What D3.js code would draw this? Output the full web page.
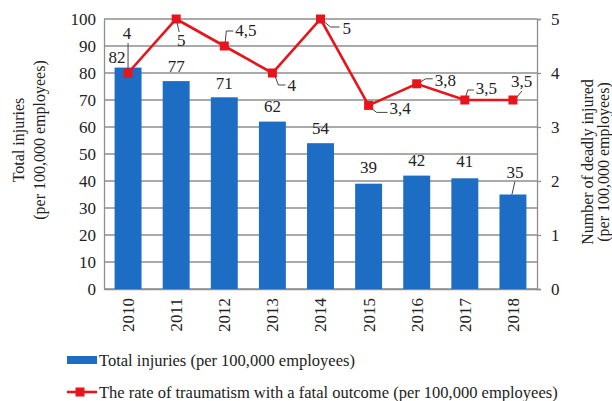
<!DOCTYPE html>
<html>
<head>
<meta charset="utf-8">
<script src="https://cdn.jsdelivr.net/npm/d3@7"></script>
<style>
  html, body { margin: 0; padding: 0; background: #fff; }
  svg text { font-family: "Liberation Serif", "Times New Roman", serif; fill: #222; }
</style>
</head>
<body>
<svg id="chart" width="612" height="401"></svg>
<script>
// ---- data ----
const years = ["2010","2011","2012","2013","2014","2015","2016","2017","2018"];
const totalInjuries = [82, 77, 71, 62, 54, 39, 42, 41, 35];
const fatalRate = [4, 5, 4.5, 4, 5, 3.4, 3.8, 3.5, 3.5];
const fatalLabels = ["4", "5", "4,5", "4", "5", "3,4", "3,8", "3,5", "3,5"];
const leftTicks = [0, 10, 20, 30, 40, 50, 60, 70, 80, 90, 100];
const rightTicks = [0, 1, 2, 3, 4, 5];
const barLegend = "Total injuries (per 100,000 employees)";
const lineLegend = "The rate of traumatism with a fatal outcome (per 100,000 employees)";
const leftTitle = ["Total injuries", "(per 100,000 employees)"];
const rightTitle = ["Number of deadly injured", "(per 100,000 employees)"];

// ---- layout (label offsets relative to marks, pixels) ----
const barLabelOffsets = [[-11,-5],[0,-9],[0,-8],[0,-10],[0,-9],[0,-11],[0,-10],[0,-11],[2,-17]];
const lineLabelOffsets = [
  {dx:-1, dy:-34, anchor:"middle", leader:[[0,-30],[0,-4]]},
  {dx:5, dy:27, anchor:"middle", leader:[[1,4],[3,13]]},
  {dx:11, dy:-10, anchor:"start", leader:[[1,-4],[2,-15],[9,-15]]},
  {dx:15, dy:18, anchor:"start", leader:[[3,4],[6,12],[13,12]]},
  {dx:22, dy:15, anchor:"start", leader:[[4,3],[10,8],[19,8]]},
  {dx:21, dy:9, anchor:"start", leader:[[3,3],[8,7],[19,7]]},
  {dx:18, dy:2, anchor:"start", leader:[[4,-2],[9,-5],[16,-5]]},
  {dx:11, dy:-6, anchor:"start", leader:[[1,-4],[3,-10],[9,-10]]},
  {dx:-2, dy:-13, anchor:"start", leader:[[4,-3],[9,-9]]}
];

const margin = {left: 104, right: 537, top: 19, bottom: 289};
const barColor = "#1c6dc3";
const lineColor = "#e8131b";
const gridColor = "#8e8e8e";

const svg = d3.select("#chart");

const x = d3.scaleBand().domain(years).range([margin.left, margin.right])
  .paddingInner(0.44).paddingOuter(0.22);
const yL = d3.scaleLinear().domain([0, 100]).range([margin.bottom, margin.top]);
const yR = d3.scaleLinear().domain([0, 5]).range([margin.bottom, margin.top]);

// gridlines
svg.append("g").selectAll("line").data(leftTicks).join("line")
  .attr("x1", margin.left).attr("x2", margin.right)
  .attr("y1", d => yL(d)).attr("y2", d => yL(d))
  .attr("stroke", gridColor).attr("stroke-width", 1.3);

// left axis
const gL = svg.append("g").attr("transform", `translate(${margin.left},0)`)
  .call(d3.axisLeft(yL).tickValues(leftTicks).tickSize(0).tickPadding(8));
gL.select(".domain").attr("stroke", gridColor).attr("stroke-width", 1.3);
gL.selectAll("text").style("font-size", "17px").style("font-family", "Liberation Serif");

// right axis
const gR = svg.append("g").attr("transform", `translate(${margin.right},0)`)
  .call(d3.axisRight(yR).tickValues(rightTicks).tickSize(4).tickPadding(10).tickFormat(d3.format("d")));
gR.select(".domain").attr("stroke", gridColor).attr("stroke-width", 1.3);
gR.selectAll("line").attr("stroke", gridColor).attr("stroke-width", 1.3);
gR.selectAll("text").style("font-size", "17px").style("font-family", "Liberation Serif");

// bottom axis
const gB = svg.append("g").attr("transform", `translate(0,${margin.bottom})`)
  .call(d3.axisBottom(x).tickSize(0).tickPadding(0));
gB.select(".domain").attr("stroke", gridColor).attr("stroke-width", 1.3);
gB.selectAll("text")
  .style("font-size", "17px").style("font-family", "Liberation Serif")
  .attr("transform", "rotate(-90)")
  .attr("text-anchor", "end")
  .attr("x", -9).attr("y", 0).attr("dy", "0.35em");

// bars
svg.append("g").selectAll("rect").data(totalInjuries).join("rect")
  .attr("x", (d,i) => x(years[i]))
  .attr("width", x.bandwidth())
  .attr("y", d => yL(d))
  .attr("height", d => yL(0) - yL(d))
  .attr("fill", barColor);

// bar labels
svg.append("g").selectAll("text").data(totalInjuries).join("text")
  .attr("x", (d,i) => x(years[i]) + x.bandwidth()/2 + barLabelOffsets[i][0])
  .attr("y", (d) => yL(d))
  .attr("dy", (d,i) => barLabelOffsets[i][1])
  .attr("text-anchor", "middle")
  .style("font-size", "17px")
  .text(d => d);

// leader for last bar label
{
  const i = totalInjuries.length - 1;
  const cx = x(years[i]) + x.bandwidth()/2;
  const ty = yL(totalInjuries[i]);
  svg.append("path")
    .attr("d", d3.line()([[cx - 1, ty], [cx + 2, ty - 13]]))
    .attr("stroke", "#444").attr("stroke-width", 1).attr("fill", "none");
}

// line
const cxOf = i => x(years[i]) + x.bandwidth()/2;
svg.append("path")
  .datum(fatalRate)
  .attr("d", d3.line().x((d,i) => cxOf(i)).y(d => yR(d)))
  .attr("fill", "none").attr("stroke", lineColor).attr("stroke-width", 2.6);

// leaders for line labels
svg.append("g").selectAll("path").data(fatalRate).join("path")
  .attr("d", (d,i) => {
    const cx = cxOf(i), cy = yR(d);
    return d3.line()(lineLabelOffsets[i].leader.map(p => [cx + p[0], cy + p[1]]));
  })
  .attr("fill", "none").attr("stroke", "#444").attr("stroke-width", 1);

// markers
const ms = 9;
svg.append("g").selectAll("rect").data(fatalRate).join("rect")
  .attr("x", (d,i) => cxOf(i) - ms/2)
  .attr("y", d => yR(d) - ms/2)
  .attr("width", ms).attr("height", ms)
  .attr("fill", lineColor);

// line labels
svg.append("g").selectAll("text").data(fatalRate).join("text")
  .attr("x", (d,i) => cxOf(i) + lineLabelOffsets[i].dx)
  .attr("y", d => yR(d))
  .attr("dy", (d,i) => lineLabelOffsets[i].dy)
  .attr("text-anchor", (d,i) => lineLabelOffsets[i].anchor)
  .style("font-size", "17px")
  .text((d,i) => fatalLabels[i]);

// axis titles
svg.append("text")
  .attr("transform", "translate(24,140) rotate(-90)")
  .attr("text-anchor", "middle").style("font-size", "16px")
  .text(leftTitle[0]);
svg.append("text")
  .attr("transform", "translate(45,140) rotate(-90)")
  .attr("text-anchor", "middle").style("font-size", "16px")
  .text(leftTitle[1]);
svg.append("text")
  .attr("transform", "translate(593,162) rotate(-90)")
  .attr("text-anchor", "middle").style("font-size", "16px")
  .text(rightTitle[0]);
svg.append("text")
  .attr("transform", "translate(609,162) rotate(-90)")
  .attr("text-anchor", "middle").style("font-size", "16px")
  .text(rightTitle[1]);

// legend
const lg = svg.append("g");
lg.append("rect").attr("x", 67).attr("y", 356).attr("width", 30).attr("height", 8).attr("fill", barColor);
lg.append("text").attr("x", 99).attr("y", 366).style("font-size", "16.5px").text(barLegend);
lg.append("line").attr("x1", 67).attr("x2", 97).attr("y1", 392).attr("y2", 392)
  .attr("stroke", lineColor).attr("stroke-width", 2.6);
lg.append("rect").attr("x", 80 - ms/2).attr("y", 392 - ms/2).attr("width", ms).attr("height", ms).attr("fill", lineColor);
lg.append("text").attr("x", 99).attr("y", 398).style("font-size", "16.5px").text(lineLegend);
</script>
</body>
</html>
